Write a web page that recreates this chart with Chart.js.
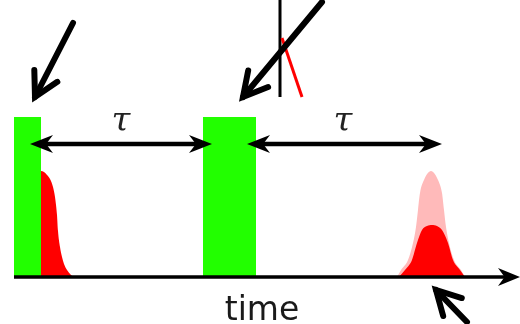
<!DOCTYPE html>
<html>
<head>
<meta charset="utf-8">
<script src="https://cdn.jsdelivr.net/npm/chart.js@4/dist/chart.umd.min.js"></script>
<style>
  html, body { margin: 0; padding: 0; background: #fff; }
  #wrap { width: 520px; height: 324px; }
</style>
</head>
<body>
<div id="wrap"><canvas id="c" width="520" height="324"></canvas></div>
<script>
// Time axis in arbitrary units, signal amplitude with 0 on the baseline.
const pulse1Time = [14, 14, 41, 41];
const pulse2Time = [203, 203, 256, 256];
const pulseLevel = [0, 160, 160, 0];

// Fluorescence decay right after the first pulse
const decayTime  = [41, 44, 47, 50, 53, 55, 57, 58, 60, 62, 64, 67, 71, 75];
const decayLevel = [106, 105, 102, 98, 90, 80, 62, 46, 30, 20, 13, 7, 2, 0];

// Echo: full envelope and the detected part
const echoTime       = [397, 401, 408, 413, 416, 418, 420, 424, 431, 438, 442, 444, 446, 449, 454, 461, 465];
const echoFullLevel  = [0, 7, 17, 34, 50, 67, 84, 97, 106, 97, 84, 67, 50, 34, 17, 7, 0];
const echoTime2      = [399, 405, 412, 417, 422, 427, 432, 437, 442, 448, 453, 460, 465];
const echoPartLevel  = [0, 7, 17, 34, 47, 51, 52, 51, 47, 34, 17, 7, 0];

// Inset lines at the top (clipped)
const insetVertTime  = [280, 280];
const insetVertLevel = [277, 180];
const insetRedTime   = [282, 302];
const insetRedLevel  = [239, 180];

// Delay markers and labels
const delayArrows = [[30, 212], [247, 442]];
const delayLevel = 133;
const delayLabels = ['τ', 'τ'];
const delayLabelTime = [121, 343];
const axisLabel = 'time';

// Pointer arrows: [tailTime, tailLevel, tipTime, tipLevel]
const pointers = [
  [73, 254, 35, 180],
  [322, 275, 243, 180],
  [467, -45, 436, -13]
];

const GREEN = '#22ff00';
const RED = '#ff0000';
const PINK = '#ffbaba';

function pts(xs, ys) { return xs.map((x, i) => ({ x: x, y: ys[i] })); }

const area = (xs, ys, color, extra) => Object.assign({
  data: pts(xs, ys),
  showLine: true,
  fill: 'origin',
  backgroundColor: color,
  borderColor: color,
  borderWidth: 0,
  pointRadius: 0,
  tension: 0
}, extra || {});

// filled arrow head with a concave back
function stealth(ctx, x, y, ang, len, half) {
  ctx.save();
  ctx.translate(x, y);
  ctx.rotate(ang);
  ctx.beginPath();
  ctx.moveTo(0, 0);
  ctx.lineTo(-len, -half);
  ctx.lineTo(-len * 0.7, 0);
  ctx.lineTo(-len, half);
  ctx.closePath();
  ctx.fill();
  ctx.restore();
}

const annotate = {
  id: 'annotate',
  afterDatasetsDraw(chart) {
    const ctx = chart.ctx;
    const sx = chart.scales.x, sy = chart.scales.y;
    const px = v => sx.getPixelForValue(v);
    const py = v => sy.getPixelForValue(v);
    ctx.save();

    // time axis with arrow head
    const ax0 = px(14), ax1 = px(520), ay = py(0);
    ctx.strokeStyle = '#000';
    ctx.fillStyle = '#000';
    ctx.lineWidth = 3.5;
    ctx.beginPath(); ctx.moveTo(ax0, ay); ctx.lineTo(ax1 - 12, ay); ctx.stroke();
    stealth(ctx, ax1, ay, 0, 22, 9);

    // delay double arrows
    delayArrows.forEach(([a, b]) => {
      const y = py(delayLevel), x0 = px(a), x1 = px(b);
      ctx.lineWidth = 4.5;
      ctx.beginPath(); ctx.moveTo(x0 + 12, y); ctx.lineTo(x1 - 12, y); ctx.stroke();
      stealth(ctx, x1, y, 0, 23, 9);
      stealth(ctx, x0, y, Math.PI, 23, 9);
    });

    // delay labels
    ctx.font = 'italic 34px "DejaVu Serif", "Liberation Serif", serif';
    ctx.textAlign = 'center';
    ctx.textBaseline = 'alphabetic';
    ctx.fillStyle = '#222';
    delayLabels.forEach((t, i) => ctx.fillText(t, px(delayLabelTime[i]), py(delayLevel + 13)));

    // axis title
    ctx.font = '33px "DejaVu Sans", sans-serif';
    ctx.fillStyle = '#1a1a1a';
    ctx.fillText(axisLabel, px(262), py(-43));

    // pointer arrows
    ctx.strokeStyle = '#000';
    ctx.lineWidth = 6;
    ctx.lineCap = 'round';
    ctx.lineJoin = 'miter';
    pointers.forEach(([tx, ty, hx, hy]) => {
      const x0 = px(tx), y0 = py(ty), x1 = px(hx), y1 = py(hy);
      const ang = Math.atan2(y1 - y0, x1 - x0);
      ctx.beginPath(); ctx.moveTo(x0, y0); ctx.lineTo(x1, y1); ctx.stroke();
      const L = 27, spread = 0.5;
      ctx.beginPath();
      ctx.moveTo(x1 - L * Math.cos(ang - spread), y1 - L * Math.sin(ang - spread));
      ctx.lineTo(x1, y1);
      ctx.lineTo(x1 - L * Math.cos(ang + spread), y1 - L * Math.sin(ang + spread));
      ctx.stroke();
    });
    ctx.restore();
  }
};

// Chart.js paints the first dataset on top, so the list runs top-most first.
new Chart(document.getElementById('c'), {
  type: 'scatter',
  data: {
    datasets: [
      { data: pts(insetRedTime, insetRedLevel), showLine: true, fill: false, borderColor: RED, borderWidth: 3, pointRadius: 0 },
      { data: pts(insetVertTime, insetVertLevel), showLine: true, fill: false, borderColor: '#000', borderWidth: 3, pointRadius: 0 },
      area(echoTime2, echoPartLevel, RED, { cubicInterpolationMode: 'monotone' }),
      area(echoTime, echoFullLevel, PINK, { cubicInterpolationMode: 'monotone' }),
      area(decayTime, decayLevel, RED, { cubicInterpolationMode: 'monotone' }),
      area(pulse2Time, pulseLevel, GREEN),
      area(pulse1Time, pulseLevel, GREEN)
    ]
  },
  options: {
    responsive: false,
    animation: false,
    devicePixelRatio: 1,
    layout: { padding: 0 },
    plugins: { legend: { display: false }, tooltip: { enabled: false } },
    scales: {
      x: { type: 'linear', min: 0, max: 520, display: false },
      y: { type: 'linear', min: -47, max: 277, display: false }
    }
  },
  plugins: [annotate]
});
</script>
</body>
</html>
